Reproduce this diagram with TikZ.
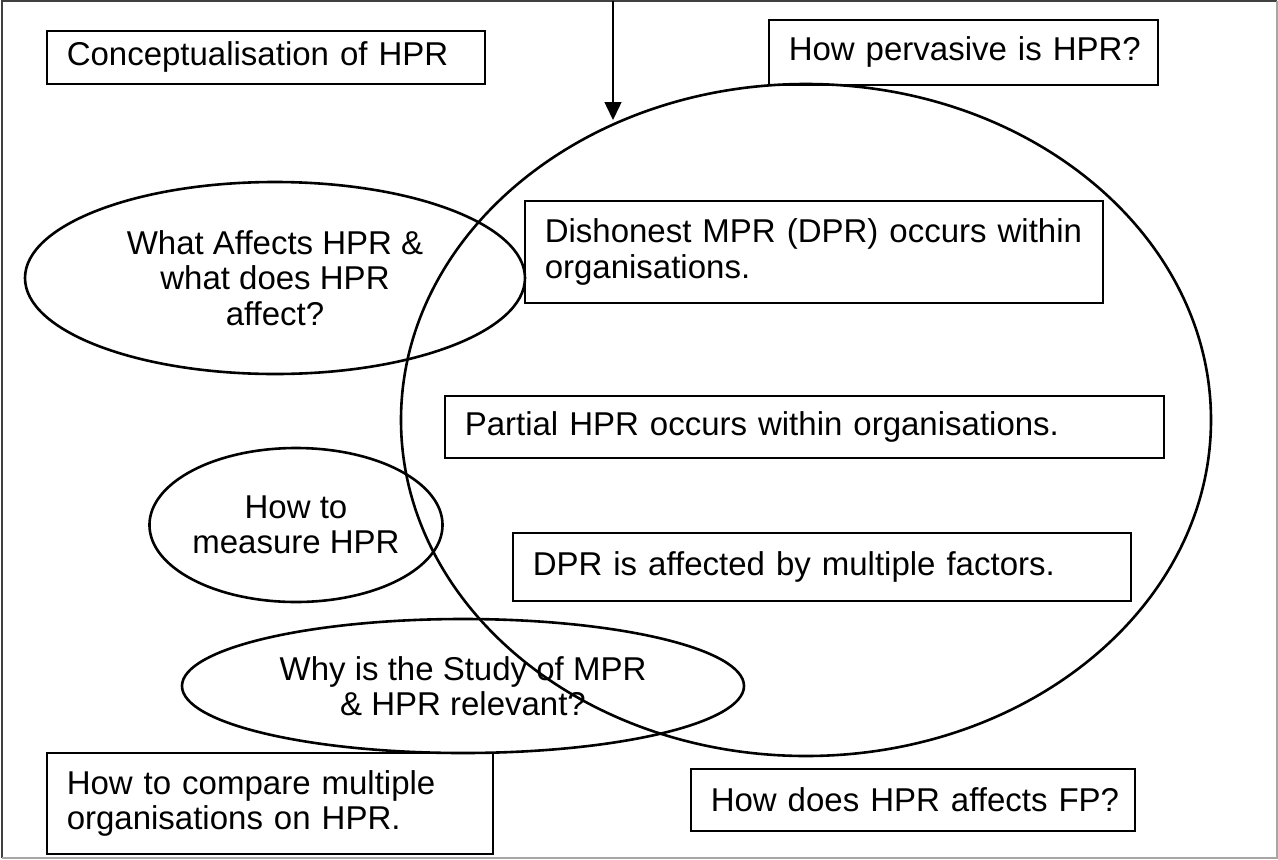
\documentclass[tikz,border=0pt]{standalone}
\usepackage{fontspec}
\setmainfont{Liberation Sans}
\usetikzlibrary{shapes.geometric,arrows.meta}
\begin{document}
\begin{tikzpicture}[x=1pt,y=-1pt,
  txt/.style={font=\fontsize{33}{35.5}\selectfont},
  qbox/.style={txt,draw=black,line width=1.5pt,anchor=north west,inner xsep=20pt,inner ysep=0pt,align=left},
  qoval/.style={txt,ellipse,draw=black,line width=2.6pt,inner sep=0pt,align=center},
  frameA/.style={draw=black!75,line width=2pt},
  frameB/.style={draw=black!35,line width=2pt}]
\useasboundingbox (0,0) rectangle (1278,860);
% page frame
\draw[frameA] (2,858) -- (2,1) -- (1277,1);
\draw[frameB] (1277,1) -- (1277,858) -- (2,858);
% question boxes
\node[qbox,minimum width=438pt,minimum height=53pt,text width=398pt] (concept) at (46,30) {\mbox{Conceptualisation of HPR}};
\node[qbox,minimum width=389pt,minimum height=65pt,text width=349pt] (pervasive) at (768,19) {\mbox{How pervasive is HPR?}};
\node[qbox,minimum width=578pt,minimum height=102pt,text width=538pt] (dishonest) at (524,200) {\mbox{Dishonest MPR (DPR) occurs within}\\organisations.};
\node[qbox,minimum width=719pt,minimum height=62pt,text width=679pt] (partial) at (444,395) {\mbox{Partial HPR occurs within organisations.}};
\node[qbox,minimum width=618pt,minimum height=68pt,text width=578pt] (dprbox) at (512,532) {\mbox{DPR is affected by multiple factors.}};
\node[qbox,minimum width=446pt,minimum height=101pt,text width=406pt] (compare) at (46,752) {\mbox{How to compare multiple}\\\mbox{organisations on HPR.}};
\node[qbox,minimum width=444pt,minimum height=62pt,text width=404pt] (fp) at (690,768) {\mbox{How does HPR affects FP?}};
% ovals
\node[qoval,minimum width=810pt,minimum height=672pt] (big) at (806,420) {};
\node[qoval,minimum width=500pt,minimum height=192pt] (affects) at (275,278) {What Affects HPR \&\\what does HPR\\affect?};
\node[qoval,minimum width=262pt,minimum height=154pt] (measure) at (296,525) {How to\\measure HPR};
\node[qoval,minimum width=562pt,minimum height=134pt] (why) at (463,686) {Why is the Study of MPR\\\& HPR relevant?};
% incoming arrow
\coordinate (src) at (613,1);
\coordinate (tip) at (613,120);
\draw[line width=1.5pt,-{Triangle[width=17pt,length=18pt]}] (src) -- (tip);
\end{tikzpicture}
\end{document}
